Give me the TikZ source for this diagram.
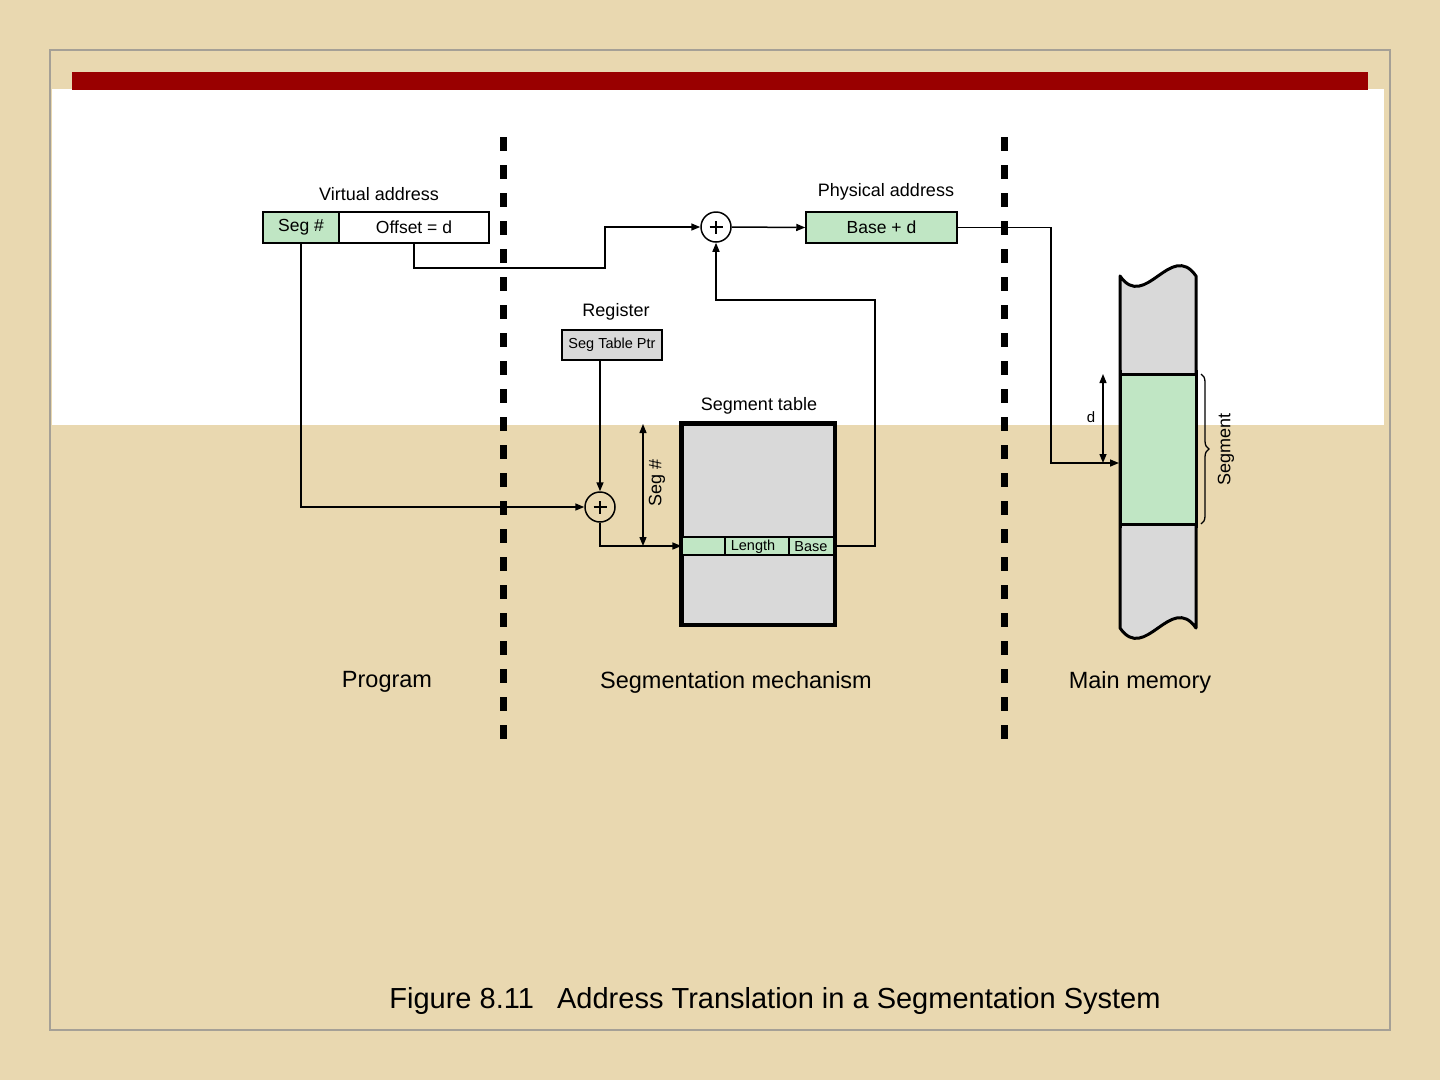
\documentclass[tikz,border=0pt]{standalone}
\usepackage{fontspec}
\setmainfont{Liberation Sans}
\usetikzlibrary{arrows.meta,decorations.pathreplacing}
\definecolor{parch}{RGB}{233,216,176}
\definecolor{framegray}{RGB}{165,160,150}
\definecolor{barred}{RGB}{153,0,0}
\definecolor{boxgreen}{RGB}{192,230,196}
\definecolor{boxgray}{RGB}{217,217,217}
\tikzset{
  fld/.style={draw=black,line width=1.5pt,minimum height=31pt,inner sep=0pt,font=\fontsize{17.5}{17.5}\selectfont},
  conn/.style={line width=1.5pt},
  arr/.style={line width=1.5pt,-{Triangle[length=9pt,width=7pt]}},
  darr/.style={line width=1.3pt,{Triangle[length=9pt,width=7pt]}-{Triangle[length=9pt,width=7pt]}},
  adder/.style={circle,draw=black,line width=1.5pt,minimum size=30pt,inner sep=0pt},
  divider/.style={line width=7pt,dash pattern=on 14pt off 14pt},
  lbl/.style={font=\fontsize{18}{18}\selectfont,inner sep=0pt},
  biglbl/.style={font=\fontsize{23.5}{23.5}\selectfont,inner sep=0pt}
}
\begin{document}
\begin{tikzpicture}[x=1pt,y=-1pt]
\useasboundingbox (0,0) rectangle (1440,1080);
% background
\fill[parch] (0,0) rectangle (1440,1080);
\fill[white] (52,89) rectangle (1384,425);
\draw[framegray,line width=2pt] (50,50) rectangle (1390,1030);
\fill[barred] (72,72) rectangle (1368,90);
% dividers
\draw[divider] (503,137) -- (503,740);
\draw[divider] (1004,137) -- (1004,740);
% virtual address
\node[fld,fill=boxgreen,minimum width=76pt] (segnum) at (301,227.5) {Seg \#};
\node[fld,fill=white,minimum width=150pt] (offset) at (414,227.5) {Offset = d};
\node[lbl] (valbl) at (379,194) {Virtual address};
% adders
\node[adder] (p1) at (716,227) {};
\node[adder] (p2) at (600,507) {};
\foreach \p in {p1,p2}{
  \draw[line width=2.2pt] ([xshift=-6.5pt]\p.center) -- ([xshift=6.5pt]\p.center);
  \draw[line width=2.2pt] ([yshift=-6.5pt]\p.center) -- ([yshift=6.5pt]\p.center);
}
% physical address
\node[fld,fill=boxgreen,minimum width=151pt] (phys) at (881.5,227.5) {Base + d};
\node[lbl] (palbl) at (886,192) {Physical address};
% register
\node[lbl] (reglbl) at (616,312) {Register};
\node[draw=black,line width=1.5pt,fill=boxgray,minimum width=100pt,minimum height=30pt,inner sep=0pt,font=\fontsize{14.5}{14.5}\selectfont] (ptr) at (612,345) {Seg Table Ptr};
% segment table
\node[lbl] (stlbl) at (759,406) {Segment table};
\node[draw=black,line width=3pt,fill=boxgray,minimum width=152pt,minimum height=200pt,inner sep=0pt] (tab) at (758,524) {};
\node[draw=black,line width=1.2pt,fill=boxgreen,minimum width=152pt,minimum height=18pt,inner sep=0pt] (row) at (758,546) {};
\draw[line width=1.2pt] (725,537) -- (725,555);
\draw[line width=1.2pt] (789,537) -- (789,555);
\node[font=\fontsize{14.5}{14.5}\selectfont,inner sep=0pt] (lenlbl) at (753,546.5) {Length};
\node[font=\fontsize{14.5}{14.5}\selectfont,inner sep=0pt] (baselbl) at (811,546.5) {Base};
\draw[line width=3pt] (tab.north west) rectangle (tab.south east);
% seg # dimension
\coordinate (sa) at (643,424);
\coordinate (sb) at (643,546);
\draw[darr] (sa) -- (sb);
\node[lbl,rotate=90] (seglbl) at (657,483) {Seg \#};
% main memory
\draw[line width=3pt,fill=boxgray,line join=round]
  (1120,276) .. controls (1145,312) and (1171,240) .. (1196,276)
  -- (1196,628) .. controls (1171,592) and (1145,664) .. (1120,628) -- cycle;
\fill[boxgreen] (1120,374) rectangle (1196,524);
\draw[line width=3pt] (1120,374) -- (1196,374);
\draw[line width=3pt] (1120,524) -- (1196,524);
\draw[line width=3pt] (1120,370) -- (1120,528);
\draw[line width=3pt] (1196,370) -- (1196,528);
\coordinate (memL) at (1119,463);
\coordinate (da) at (1103,374);
\coordinate (db) at (1103,463);
\draw[darr] (da) -- (db);
\node[font=\fontsize{15}{15}\selectfont,inner sep=0pt] (dlbl) at (1091,417) {d};
\draw[line width=1.3pt,decorate,decoration={brace,amplitude=8pt}] (1201,374) -- (1201,524);
\node[lbl,rotate=90] (seglbl2) at (1226,449) {Segment};
% connectors
\draw[arr] (offset.south) |- (605,268) |- (p1.west);
\draw[arr] (p1.east) -- (phys.west);
\draw[arr] (phys.east) -| (1051,463) -- (memL);
\draw[arr] (segnum.south) |- (p2.west);
\draw[arr] (p2.north |- ptr.south) -- (p2.north);
\draw[arr] (p2.south) |- (row.west);
\draw[arr] (row.east) -| (875,300) -| (p1.south);
% section labels
\node[biglbl] (prog) at (387,682) {Program};
\node[biglbl] (segm) at (736,682) {Segmentation mechanism};
\node[biglbl] (mainm) at (1140,682) {Main memory};
\node[font=\fontsize{29}{29}\selectfont,inner sep=0pt] (title) at (775,1001) {Figure 8.11\hspace{0.8em}Address Translation in a Segmentation System};
\end{tikzpicture}
\end{document}
